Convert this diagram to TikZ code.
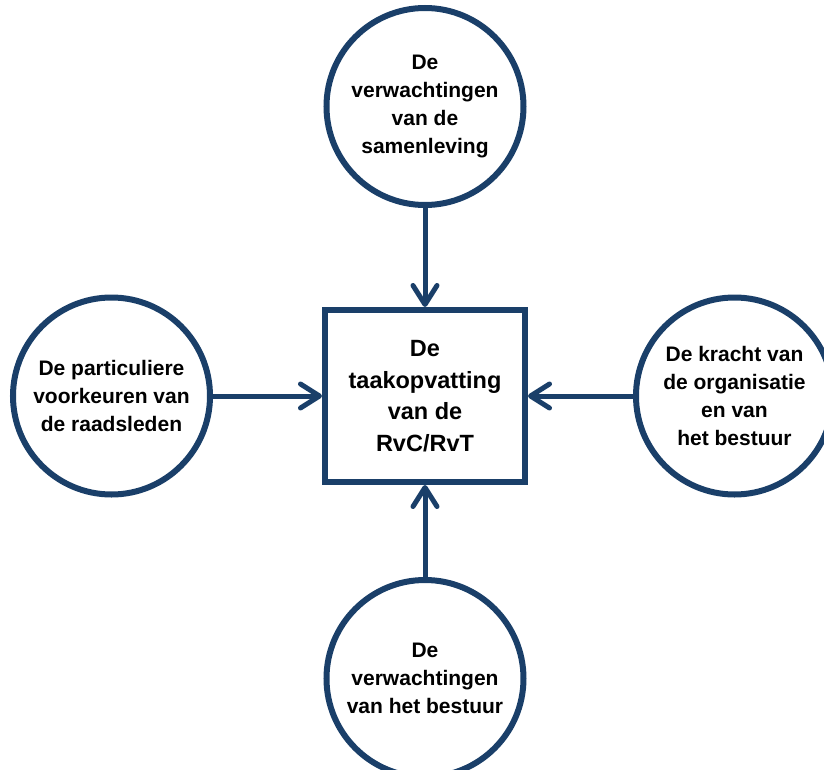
\documentclass[tikz,border=0pt]{standalone}
\usepackage{fontspec}
\setmainfont{Liberation Sans}
\usepackage{xcolor}
\usepackage{tikz}
\usetikzlibrary{arrows.meta,positioning}
\definecolor{rvcBlue}{RGB}{26,63,105}

\begin{document}
\begin{tikzpicture}[
  factor/.style={draw=rvcBlue,circle,line width=6pt,minimum size=197pt,inner sep=0pt,align=center,font=\bfseries\fontsize{21}{28}\selectfont},
  core/.style={draw=rvcBlue,line width=6pt,minimum width=200pt,minimum height=172pt,align=center,font=\bfseries\fontsize{23.5}{31.5}\selectfont},
  arrow/.style={-{Straight Barb[round,length=19pt,width=24pt]},rvcBlue,line width=5pt}
]
\node[core] (task) {De\\taakopvatting\\van de\\RvC/RvT};
\useasboundingbox (task.center) ++(-425pt,396pt) rectangle ++(824pt,-769pt);
\node[factor,above=99pt of task] (soc) {De\\verwachtingen\\van de\\samenleving};
\node[factor,left=109pt of task] (pref) {De particuliere\\voorkeuren van\\de raadsleden};
\node[factor,right=105pt of task] (org) {De kracht van\\de organisatie\\en van\\het bestuur};
\node[factor,below=92pt of task] (board) {De\\verwachtingen\\van het bestuur};
\draw[arrow] (soc) -- (task);
\draw[arrow] (pref) -- (task);
\draw[arrow] (org) -- (task);
\draw[arrow] (board) -- (task);
\end{tikzpicture}
\end{document}
